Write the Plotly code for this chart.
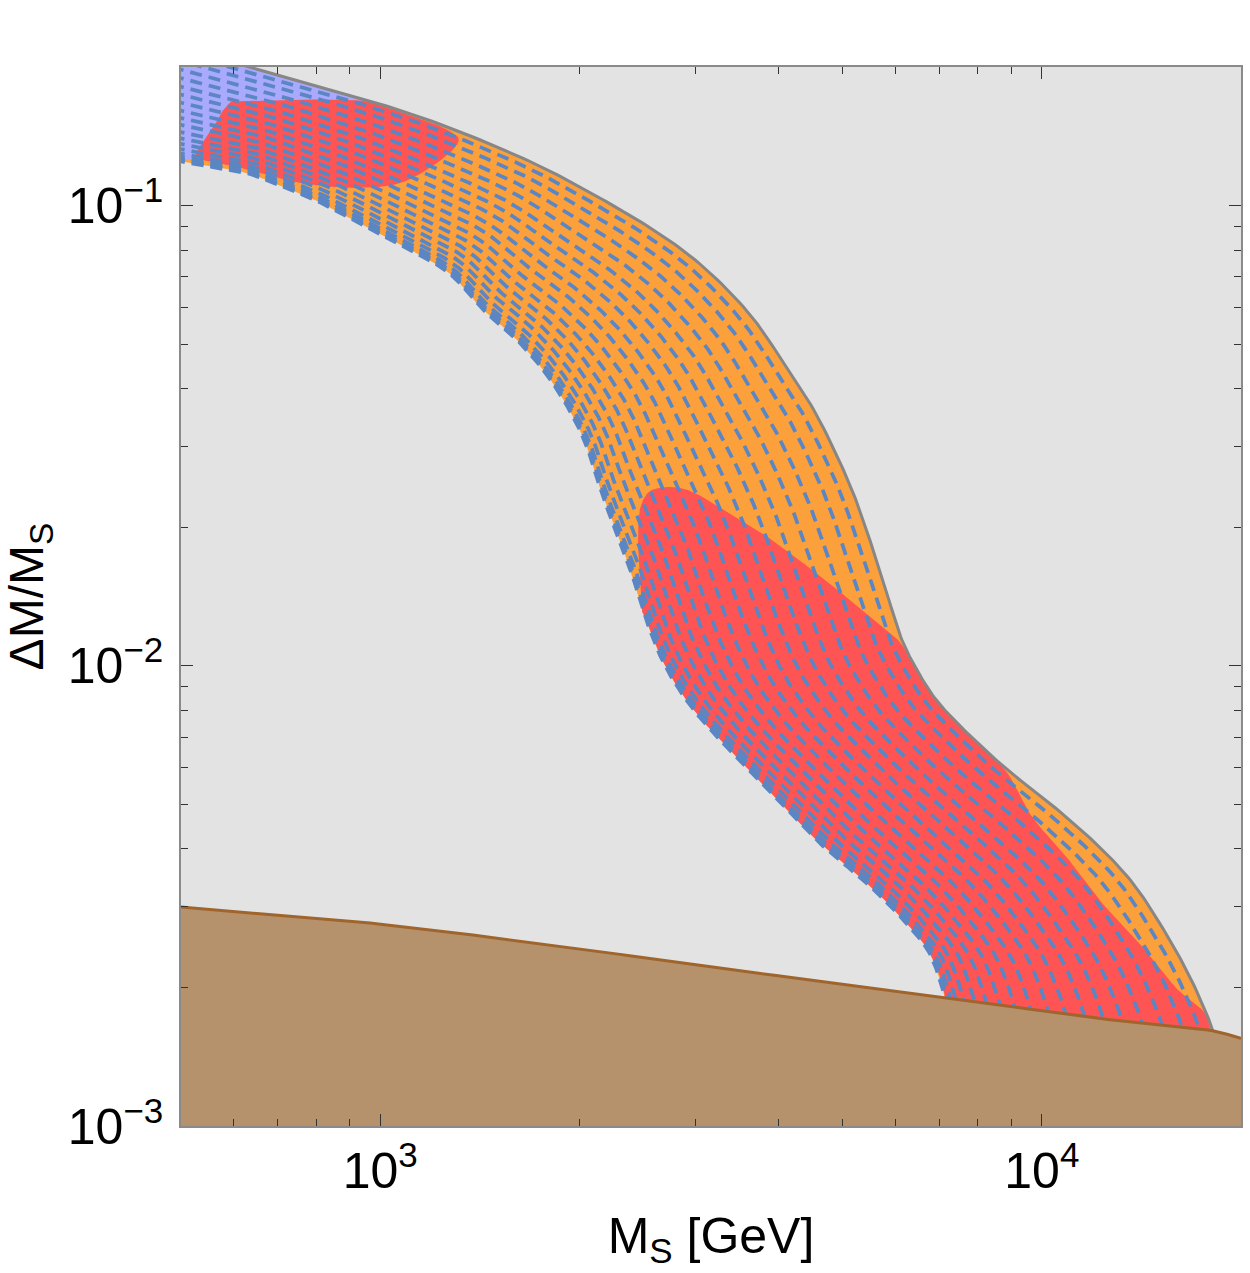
import numpy as np
import plotly.graph_objects as go

# ---------------- data (M_S in GeV, ratio = ΔM/M_S) ----------------
# upper edge of the allowed band (grey line)
upper_M = [400, 632, 1005, 1269, 1696, 2011, 2541, 3025, 3602, 4042, 4536, 5105, 5346,
           5731, 6144, 6472, 6868, 7314, 8800, 10260, 12215, 13705, 15377, 16900, 18120, 18300]
upper_R = [0.2415, 0.2005, 0.1658, 0.1478, 0.1241, 0.1094, 0.0900, 0.0752, 0.0585, 0.0463,
           0.0357, 0.0251, 0.02108, 0.01561, 0.01139, 0.00980, 0.00856, 0.00771, 0.00600,
           0.00504, 0.00404, 0.00338, 0.00263, 0.00205, 0.00162, 0.00154]

# lower edge of the allowed band
lower_M = [400, 500, 632, 709, 795, 1005, 1269, 1424, 1592, 1799, 2018, 2179, 2370, 2523,
           2677, 2900, 3188, 3515, 3863, 4599, 5477, 6144, 6750, 7137, 7215]
lower_R = [0.132, 0.1247, 0.1174, 0.1100, 0.1030, 0.0861, 0.0715, 0.0597, 0.0519, 0.0423,
           0.0318, 0.02296, 0.01675, 0.01259, 0.01020, 0.00843, 0.00715, 0.00618, 0.00537,
           0.00414, 0.00334, 0.00283, 0.00239, 0.00191, 0.00180]

# contour levels (fraction across the band) of the dashed curves
contour_levels = [0.0, 0.008, 0.02, 0.04, 0.07, 0.11, 0.155, 0.205, 0.26, 0.32, 0.385,
                  0.45, 0.52, 0.59, 0.66, 0.735, 0.81, 0.885, 0.95]

# lavender / orange separation (upper-left part of the band)
lav_M = [1112, 527, 480]
lav_R = [0.1576, 0.1259, 0.1265]

# small red island (top left)
red1_M = [595, 757, 960, 1005, 1073, 1192, 1269, 1314, 1300, 1196, 1066, 895, 752, 632,
          534, 527, 544, 561, 577, 595]
red1_R = [0.1683, 0.1700, 0.1683, 0.1650, 0.1593, 0.1515, 0.1456, 0.1398, 0.1343, 0.1216,
          0.1116, 0.1094, 0.1122, 0.1198, 0.1265, 0.1291, 0.1392, 0.1485, 0.1601, 0.1683]

# large red region (middle / lower right)
red2_M = [2488, 2463, 2454, 2480, 2550, 2659, 2821, 2984, 3359, 3769, 4230, 4762, 5346,
          5997, 6144, 6472, 6868, 7314, 8800, 9670, 10887, 12215, 13896, 16035, 17620,
          17990, 17990, 7063, 7137, 6750, 6144, 5477, 4599, 3863, 3515, 3188, 2900, 2677,
          2523, 2488]
red2_R = [0.01310, 0.01617, 0.01946, 0.02239, 0.02389, 0.02438, 0.02438, 0.02377, 0.02151,
          0.01946, 0.01726, 0.01515, 0.01323, 0.01156, 0.01111, 0.00980, 0.00856, 0.00771,
          0.00594, 0.00469, 0.00385, 0.00310, 0.00254, 0.00198, 0.00176, 0.00160, 0.00146,
          0.00146, 0.00191, 0.00239, 0.00283, 0.00334, 0.00414, 0.00537, 0.00618, 0.00715,
          0.00843, 0.01020, 0.01259, 0.01310]

# excluded region at the bottom (brown)
brown_M = [500, 966, 1943, 3058, 7188, 12344, 18120, 20000]
brown_R = [0.00299, 0.00276, 0.00244, 0.00223, 0.00190, 0.00171, 0.00161, 0.00155]

x_tickvals = [1000, 10000]
x_ticktext = ["10<sup>3</sup>", "10<sup>4</sup>"]
x_minor = [600, 700, 800, 900, 2000, 3000, 4000, 5000, 6000, 7000, 8000, 9000, 20000]
y_tickvals = [0.001, 0.01, 0.1]
y_ticktext = ["10<sup>\u22123</sup>", "10<sup>\u22122</sup>", "10<sup>\u22121</sup>"]
y_minor = [0.002, 0.003, 0.004, 0.005, 0.006, 0.007, 0.008, 0.009,
           0.02, 0.03, 0.04, 0.05, 0.06, 0.07, 0.08, 0.09, 0.2]

# ---------------- colours ----------------
C_BG = "#e3e3e3"
C_ORANGE = "#fca03c"
C_LAV = "#a9a9fd"
C_RED = "#fe5454"
C_DASH = "#5b86c4"
C_GREY = "#878787"
C_BROWN = "#b5926c"
C_BROWN_EDGE = "#a0652c"

SX, SY = 660.0, 460.0  # pixels per decade (for isotropic smoothing)


def to_xy(M, R):
    return np.column_stack([np.log10(M) * SX, np.log10(R) * SY])


def from_xy(P):
    return 10 ** (P[:, 0] / SX), 10 ** (P[:, 1] / SY)


def cr_segment(p0, p1, p2, p3, n, alpha=0.5):
    def tj(ti, a, b):
        return ti + max(np.linalg.norm(b - a), 1e-6) ** alpha
    t0 = 0.0
    t1 = tj(t0, p0, p1)
    t2 = tj(t1, p1, p2)
    t3 = tj(t2, p2, p3)
    t = np.linspace(t1, t2, n, endpoint=False)[:, None]
    A1 = (t1 - t) / (t1 - t0) * p0 + (t - t0) / (t1 - t0) * p1
    A2 = (t2 - t) / (t2 - t1) * p1 + (t - t1) / (t2 - t1) * p2
    A3 = (t3 - t) / (t3 - t2) * p2 + (t - t2) / (t3 - t2) * p3
    B1 = (t2 - t) / (t2 - t0) * A1 + (t - t0) / (t2 - t0) * A2
    B2 = (t3 - t) / (t3 - t1) * A2 + (t - t1) / (t3 - t1) * A3
    return (t2 - t) / (t2 - t1) * B1 + (t - t1) / (t2 - t1) * B2


def smooth(M, R, n=16):
    P = to_xy(M, R)
    P = np.vstack([2 * P[0] - P[1], P, 2 * P[-1] - P[-2]])
    out = [cr_segment(P[i - 1], P[i], P[i + 1], P[i + 2], n) for i in range(1, len(P) - 2)]
    out.append(P[-2][None, :])
    return np.vstack(out)


def resample(P, N):
    d = np.r_[0, np.cumsum(np.hypot(*np.diff(P, axis=0).T))]
    s = np.linspace(0, d[-1], N)
    return np.column_stack([np.interp(s, d, P[:, 0]), np.interp(s, d, P[:, 1])])


up = smooth(upper_M, upper_R)
lo = smooth(lower_M, lower_R)
upM, upR = from_xy(up)
loM, loR = from_xy(lo)

fig = go.Figure()

# allowed band (orange)
fig.add_trace(go.Scatter(x=np.r_[upM, loM[::-1]], y=np.r_[upR, loR[::-1]], mode="lines",
                         fill="toself", fillcolor=C_ORANGE, line=dict(width=0),
                         hoverinfo="skip"))

# lavender part (upper left)
mask = upM <= lav_M[0]
lavx = np.r_[upM[mask], lav_M]
lavy = np.r_[upR[mask], lav_R]
fig.add_trace(go.Scatter(x=lavx, y=lavy, mode="lines", fill="toself", fillcolor=C_LAV,
                         line=dict(width=0), hoverinfo="skip"))

# red regions
r1 = smooth(red1_M, red1_R, 12)
r1M, r1R = from_xy(r1)
fig.add_trace(go.Scatter(x=r1M, y=r1R, mode="lines", fill="toself", fillcolor=C_RED,
                         line=dict(width=0), hoverinfo="skip"))
r2 = smooth(red2_M, red2_R, 12)
r2M, r2R = from_xy(r2)
fig.add_trace(go.Scatter(x=r2M, y=r2R, mode="lines", fill="toself", fillcolor=C_RED,
                         line=dict(width=0), hoverinfo="skip"))

# dashed contour curves
NS = 600
upS = resample(up, NS)
loS = resample(lo, NS)
for t in contour_levels:
    P = (1 - t) * loS + t * upS
    cm, cr = from_xy(P)
    fig.add_trace(go.Scatter(x=cm, y=cr, mode="lines",
                             line=dict(color=C_DASH, width=3.7, dash="12px,7px"),
                             hoverinfo="skip"))

# grey upper boundary
fig.add_trace(go.Scatter(x=upM, y=upR, mode="lines", line=dict(color=C_GREY, width=3),
                         hoverinfo="skip"))

# brown excluded region
br = smooth(brown_M, brown_R, 16)
bM, bR = from_xy(br)
fig.add_trace(go.Scatter(x=np.r_[bM, brown_M[-1], brown_M[0]],
                         y=np.r_[bR, 0.0009, 0.0009], mode="lines", fill="toself",
                         fillcolor=C_BROWN, line=dict(width=0), hoverinfo="skip"))
fig.add_trace(go.Scatter(x=bM, y=bR, mode="lines", line=dict(color=C_BROWN_EDGE, width=3),
                         hoverinfo="skip"))

axis_common = dict(
    type="log", showgrid=False, zeroline=False, showline=True, linecolor="#8a8a8a",
    linewidth=1.5, mirror="ticks", ticks="inside", ticklen=12, tickwidth=1.3,
    tickcolor="#333333", tickfont=dict(size=50, color="black"),
)

fig.update_xaxes(
    **axis_common,
    range=[np.log10(500), np.log10(20000)],
    tickmode="array", tickvals=x_tickvals, ticktext=x_ticktext,
    minor=dict(tickmode="array", tickvals=x_minor, ticks="inside", ticklen=7,
               tickwidth=1.3, tickcolor="#333333"),
    title=dict(text="M<sub>S</sub> [GeV]", font=dict(size=50, color="black"), standoff=20),
)
fig.update_yaxes(
    **axis_common,
    range=[-3, np.log10(0.2)],
    tickmode="array", tickvals=y_tickvals, ticktext=y_ticktext,
    minor=dict(tickmode="array", tickvals=y_minor, ticks="inside", ticklen=7,
               tickwidth=1.3, tickcolor="#333333"),
    title=dict(text="\u0394M/M<sub>S</sub>", font=dict(size=48, color="black"), standoff=12),
    ticklabelstandoff=6,
)

fig.update_layout(
    width=1250, height=1273,
    margin=dict(l=181, r=9, t=67, b=147, autoexpand=False),
    paper_bgcolor="white", plot_bgcolor=C_BG,
    font=dict(family="Liberation Sans, Arial, sans-serif", size=48, color="black"),
    showlegend=False, hovermode=False,
)

fig.write_html("out.html", config={"displayModeBar": False})
